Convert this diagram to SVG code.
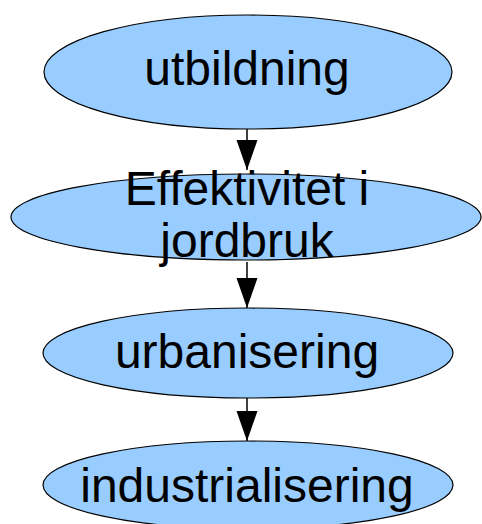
<svg xmlns="http://www.w3.org/2000/svg" width="482" height="524" viewBox="0 0 482 524">
<defs>
<style>
.node ellipse{fill:#99ccff;stroke:#000;stroke-width:1.2}
.node text{font-family:"Liberation Sans",Arial,sans-serif;font-size:48px;fill:#000;text-anchor:middle}
.edge{stroke:#000;stroke-width:1.5;fill:none}
</style>
<marker id="ah" markerUnits="userSpaceOnUse" markerWidth="30" markerHeight="22" refX="30" refY="11" orient="auto">
<path d="M0,0.5 L30,11 L0,21.5 Z" fill="#000"/>
</marker>
</defs>
<rect width="482" height="524" fill="#fff"/>
<g id="n1" class="node">
<ellipse cx="248" cy="72" rx="204" ry="57"/>
<text x="247" y="85">utbildning</text>
</g>
<g id="n2" class="node">
<ellipse cx="246" cy="217" rx="235" ry="43"/>
<text x="247" y="205">Effektivitet i</text>
<text x="247" y="257">jordbruk</text>
</g>
<g id="n3" class="node">
<ellipse cx="248" cy="353" rx="205" ry="45"/>
<text x="247" y="368">urbanisering</text>
</g>
<g id="n4" class="node">
<ellipse cx="248" cy="485" rx="205" ry="44"/>
<text x="247" y="502">industrialisering</text>
</g>
<g id="edges">
<line class="edge" x1="247" y1="129" x2="247" y2="170" marker-end="url(#ah)"/>
<line class="edge" x1="247" y1="262" x2="247" y2="308" marker-end="url(#ah)"/>
<line class="edge" x1="247" y1="398" x2="247" y2="441" marker-end="url(#ah)"/>
</g>
</svg>
